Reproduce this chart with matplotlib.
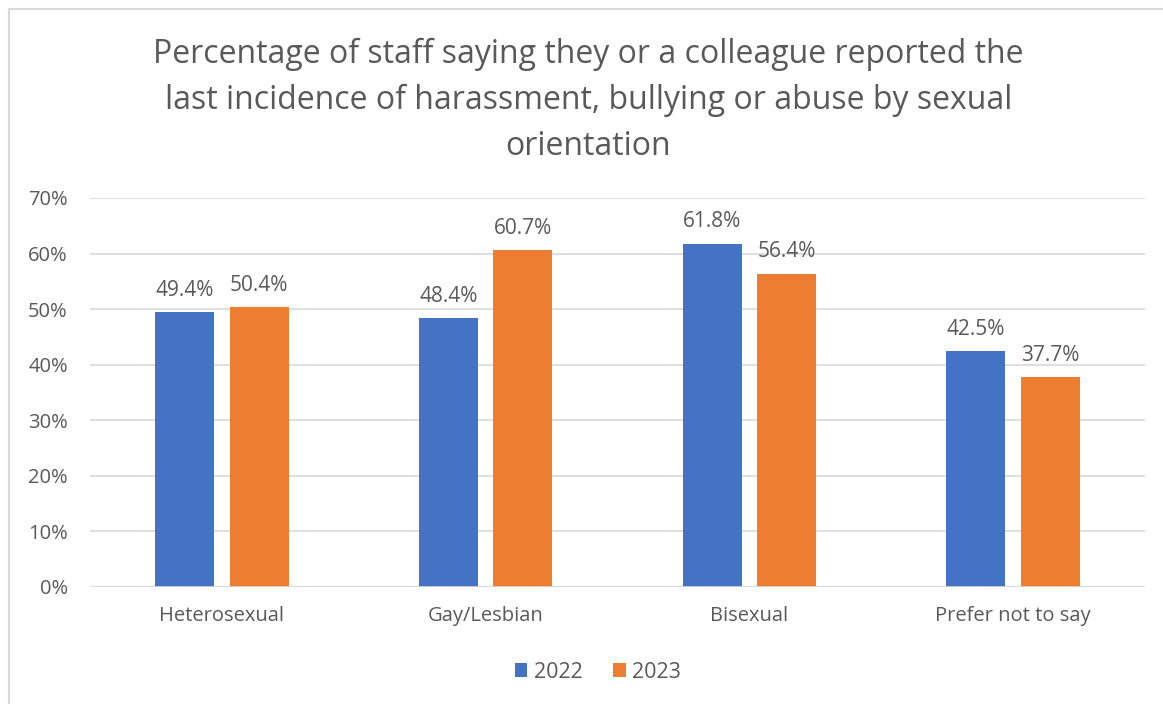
import matplotlib.pyplot as plt
import numpy as np
from matplotlib.patches import Rectangle
from matplotlib.ticker import PercentFormatter

plt.rcParams['font.family'] = ['Open Sans', 'DejaVu Sans']

categories = ["Heterosexual", "Gay/Lesbian", "Bisexual", "Prefer not to say"]
years = ["2022", "2023"]
values_2022 = [49.4, 48.4, 61.8, 42.5]
values_2023 = [50.4, 60.7, 56.4, 37.7]
colors = ["#4472C4", "#ED7D31"]
text_color = "#595959"

fig = plt.figure(figsize=(11.63, 7.04), dpi=100)
ax = fig.add_axes([0.0774, 0.1662, 0.9071, 0.5526])

x = np.arange(len(categories))
w = 0.224
off = 0.141
for vals, xo, c, lab in [(values_2022, -off, colors[0], years[0]),
                         (values_2023, off, colors[1], years[1])]:
    bars = ax.bar(x + xo, vals, w, color=c, label=lab, zorder=3)
    for b, v in zip(bars, vals):
        ax.annotate(f"{v:.1f}%", (b.get_x() + b.get_width() / 2, v),
                    xytext=(0, 8), textcoords="offset points",
                    ha="center", va="bottom", fontsize=15, color=text_color)

ax.set_xlim(-0.5, len(categories) - 0.5)
ax.set_ylim(0, 70)
ax.set_yticks(range(0, 71, 10))
ax.yaxis.set_major_formatter(PercentFormatter(decimals=0))
ax.set_xticks(x)
ax.set_xticklabels(categories)
ax.tick_params(axis="both", length=0, labelsize=14.5, colors=text_color)
ax.tick_params(axis="y", pad=16)
ax.tick_params(axis="x", pad=14)
ax.grid(axis="y", color="#D9D9D9", linewidth=1.2, zorder=0)
for s in ax.spines.values():
    s.set_visible(False)
ax.axhline(0, color="#D9D9D9", linewidth=1.2, zorder=4)

fig.text(0.506, 0.946,
         "Percentage of staff saying they or a colleague reported the\n"
         "last incidence of harassment, bullying or abuse by sexual\n"
         "orientation",
         ha="center", va="top", fontsize=23, color=text_color, linespacing=1.5)

fig.legend(loc="center", bbox_to_anchor=(0.514, 0.045), ncol=2, frameon=False,
           fontsize=15.5, labelcolor=text_color, handlelength=0.6, handleheight=0.6,
           handletextpad=0.3, columnspacing=1.4)

fig.patches.append(Rectangle((9 / 1163, -0.01), 1.02, 1 - 9 / 704 + 0.01,
                             transform=fig.transFigure, fill=False,
                             edgecolor="#D9D9D9", linewidth=1.5))

fig.savefig("out.png", dpi=100)
